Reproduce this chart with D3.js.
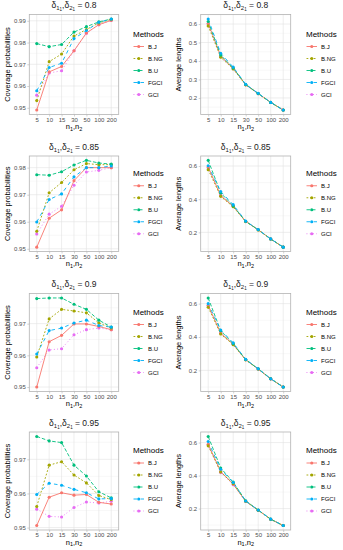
<!DOCTYPE html>
<html><head><meta charset="utf-8">
<script src="https://cdn.jsdelivr.net/npm/d3@7"></script>
<style>body{margin:0;background:#fff} svg{display:block;font-family:"Liberation Sans",Arial,sans-serif}</style>
</head><body><svg id="c" width="343" height="550"></svg>
<script>
// ---------- data ----------
const xCats = ["5", "10", "15", "30", "50", "100", "200"];
const methods = ["B.J", "B.NG", "B.U", "FGCI", "GCI"];
const deltas = ["0.8", "0.85", "0.9", "0.95"];

// Coverage probabilities, one row per delta (0.8, 0.85, 0.9, 0.95)
const covBJ = [
  [0.9490, 0.9665, 0.9690, 0.9762, 0.9844, 0.9882, 0.9902],
  [0.9506, 0.9613, 0.9644, 0.9752, 0.9800, 0.9800, 0.9800],
  [0.9500, 0.9643, 0.9663, 0.9699, 0.9699, 0.9691, 0.9681],
  [0.9506, 0.9589, 0.9602, 0.9595, 0.9597, 0.9574, 0.9569]
];
const covBNG = [
  [0.9533, 0.9712, 0.9747, 0.9830, 0.9860, 0.9890, 0.9907],
  [0.9565, 0.9707, 0.9745, 0.9792, 0.9815, 0.9811, 0.9811],
  [0.9595, 0.9715, 0.9745, 0.9740, 0.9734, 0.9702, 0.9686],
  [0.9562, 0.9683, 0.9693, 0.9654, 0.9631, 0.9594, 0.9582]
];
const covBU = [
  [0.9795, 0.9781, 0.9791, 0.9848, 0.9873, 0.9895, 0.9908],
  [0.9774, 0.9772, 0.9785, 0.9810, 0.9827, 0.9817, 0.9813],
  [0.9779, 0.9781, 0.9781, 0.9761, 0.9745, 0.9711, 0.9689],
  [0.9767, 0.9754, 0.9749, 0.9683, 0.9651, 0.9605, 0.9587]
];
const covFGCI = [
  [0.9578, 0.9685, 0.9705, 0.9818, 0.9855, 0.9893, 0.9908],
  [0.9599, 0.9682, 0.9703, 0.9766, 0.9800, 0.9800, 0.9806],
  [0.9604, 0.9678, 0.9686, 0.9702, 0.9711, 0.9694, 0.9689],
  [0.9597, 0.9630, 0.9624, 0.9612, 0.9602, 0.9584, 0.9585]
];
const covGCI = [
  [0.9558, 0.9660, 0.9670, 0.9762, 0.9843, 0.9882, 0.9902],
  [0.9555, 0.9628, 0.9657, 0.9735, 0.9784, 0.9790, 0.9800],
  [0.9561, 0.9617, 0.9621, 0.9665, 0.9681, 0.9686, 0.9681],
  [0.9554, 0.9533, 0.9531, 0.9559, 0.9575, 0.9572, 0.9577]
];

// Average lengths
const lenBJ = [
  [0.603, 0.427, 0.360, 0.272, 0.224, 0.176, 0.135],
  [0.594, 0.421, 0.357, 0.266, 0.216, 0.160, 0.111],
  [0.590, 0.422, 0.356, 0.264, 0.208, 0.149, 0.100],
  [0.590, 0.424, 0.349, 0.244, 0.190, 0.135, 0.097]
];
const lenBNG = [
  [0.590, 0.420, 0.357, 0.271, 0.223, 0.175, 0.135],
  [0.578, 0.417, 0.354, 0.265, 0.215, 0.160, 0.111],
  [0.578, 0.418, 0.354, 0.263, 0.208, 0.149, 0.100],
  [0.580, 0.422, 0.350, 0.244, 0.190, 0.135, 0.097]
];
const lenBU = [
  [0.614, 0.432, 0.362, 0.273, 0.224, 0.176, 0.135],
  [0.634, 0.437, 0.360, 0.267, 0.216, 0.160, 0.111],
  [0.634, 0.437, 0.360, 0.265, 0.209, 0.150, 0.100],
  [0.637, 0.446, 0.360, 0.247, 0.191, 0.136, 0.097]
];
const lenFGCI = [
  [0.627, 0.442, 0.367, 0.274, 0.225, 0.176, 0.135],
  [0.601, 0.446, 0.367, 0.268, 0.217, 0.161, 0.111],
  [0.600, 0.442, 0.365, 0.266, 0.210, 0.150, 0.100],
  [0.606, 0.438, 0.358, 0.246, 0.191, 0.136, 0.097]
];
const lenGCI = [
  [0.600, 0.423, 0.358, 0.271, 0.223, 0.175, 0.135],
  [0.590, 0.425, 0.357, 0.266, 0.216, 0.160, 0.111],
  [0.586, 0.426, 0.356, 0.264, 0.208, 0.149, 0.100],
  [0.586, 0.418, 0.344, 0.244, 0.190, 0.135, 0.097]
];

const covTicks = [
  [0.95, 0.96, 0.97, 0.98, 0.99],
  [0.95, 0.96, 0.97, 0.98],
  [0.95, 0.96, 0.97],
  [0.95, 0.96, 0.97]
];
const lenTicks = [
  [0.2, 0.3, 0.4, 0.5, 0.6],
  [0.2, 0.4, 0.6],
  [0.2, 0.4, 0.6],
  [0.2, 0.4, 0.6]
];

// ---------- styles / layout ----------
const colors = ["#F8766D", "#A3A500", "#00BF7D", "#00B0F6", "#E76BF3"];
const dashes = [null, "1.8,1.8", "3.6,1.8", "3.6,3.6", "0.9,2.4"];
const drawOrder = [4, 0, 1, 2, 3]; // GCI, B.J, B.NG, B.U, FGCI (FGCI on top)
const rowTop = [14.5, 156, 293.5, 432];
const rowBottom = [114.5, 251.5, 391.5, 530];

const panels = [
  { x0: 29.3, x1: 118.7, yTitleX: 7.5, legX: 133, label: "Coverage probabilities",
    data: [covBJ, covBNG, covBU, covFGCI, covGCI], ticks: covTicks, fmt: d3.format(".2f") },
  { x0: 200.7, x1: 290.7, yTitleX: 178, legX: 306, label: "Average lengths",
    data: [lenBJ, lenBNG, lenBU, lenFGCI, lenGCI], ticks: lenTicks, fmt: d3.format(".1f") }
];

const svg = d3.select("#c");
svg.append("rect").attr("width", 343).attr("height", 550).attr("fill", "#fff");

function subText(sel, parts) {
  parts.forEach(p => {
    sel.append("tspan").attr("dy", p.dy || 0).attr("font-size", p.fs).text(p.t);
  });
}

deltas.forEach((dl, ri) => {
  const top = rowTop[ri], bottom = rowBottom[ri];
  panels.forEach(p => {
    const g = svg.append("g");
    const series = p.data.map(arr => arr[ri]);
    const ext = d3.extent(series.flat());
    const pad = (ext[1] - ext[0]) * 0.05;
    const y = d3.scaleLinear().domain([ext[0] - pad, ext[1] + pad]).range([bottom, top]);
    const x = d3.scalePoint().domain(xCats).range([p.x0, p.x1]).padding(0.6);
    const ticks = p.ticks[ri];

    // minor grid
    const step = ticks[1] - ticks[0];
    const minors = [];
    for (let v = ticks[0] - step / 2; v <= y.domain()[1]; v += step) {
      if (v >= y.domain()[0]) minors.push(v);
    }
    g.selectAll(".mn").data(minors).join("line")
      .attr("x1", p.x0).attr("x2", p.x1)
      .attr("y1", d => y(d)).attr("y2", d => y(d))
      .attr("stroke", "#eeeeee").attr("stroke-width", 0.4);
    // major grid
    g.selectAll(".mjy").data(ticks).join("line")
      .attr("x1", p.x0).attr("x2", p.x1)
      .attr("y1", d => y(d)).attr("y2", d => y(d))
      .attr("stroke", "#e2e2e2").attr("stroke-width", 0.6);
    g.selectAll(".mjx").data(xCats).join("line")
      .attr("x1", d => x(d)).attr("x2", d => x(d))
      .attr("y1", top).attr("y2", bottom)
      .attr("stroke", "#e2e2e2").attr("stroke-width", 0.6);

    // axes
    const ya = g.append("g").attr("transform", `translate(${p.x0},0)`)
      .call(d3.axisLeft(y).tickValues(ticks).tickFormat(p.fmt).tickSize(2).tickPadding(1.5));
    const xa = g.append("g").attr("transform", `translate(0,${bottom})`)
      .call(d3.axisBottom(x).tickSize(2).tickPadding(1));
    [ya, xa].forEach(a => {
      a.select(".domain").remove();
      a.selectAll(".tick line").attr("stroke", "#b3b3b3").attr("stroke-width", 0.6);
      a.selectAll(".tick text").attr("fill", "#4d4d4d").attr("font-size", 6)
        .attr("font-family", '"Liberation Sans",Arial,sans-serif');
    });

    // series: lines first, then points
    const line = d3.line().x((d, i) => x(xCats[i])).y(d => y(d));
    drawOrder.forEach(mi => {
      g.append("path").datum(series[mi]).attr("d", line)
        .attr("fill", "none").attr("stroke", colors[mi]).attr("stroke-width", 0.9)
        .attr("stroke-dasharray", dashes[mi]);
    });
    drawOrder.forEach(mi => {
      g.selectAll(null).data(series[mi]).join("circle")
        .attr("cx", (d, i) => x(xCats[i])).attr("cy", d => y(d)).attr("r", 1.55)
        .attr("fill", colors[mi]);
    });

    // panel border
    g.append("rect").attr("x", p.x0).attr("y", top)
      .attr("width", p.x1 - p.x0).attr("height", bottom - top)
      .attr("fill", "none").attr("stroke", "#b3b3b3").attr("stroke-width", 0.8);

    // title
    const t = g.append("text").attr("x", (p.x0 + p.x1) / 2).attr("y", top - 6.5)
      .attr("text-anchor", "middle").attr("font-size", 8.5).attr("fill", "#1a1a1a");
    subText(t, [
      { t: "\u03b4", fs: 8.5 }, { t: "1", fs: 6, dy: 2 }, { t: "1", fs: 4.5, dy: 1.2 },
      { t: ",\u03b4", fs: 8.5, dy: -3.2 }, { t: "2", fs: 6, dy: 2 }, { t: "1", fs: 4.5, dy: 1.2 },
      { t: " = " + dl, fs: 8.5, dy: -3.2 }
    ]);

    // x axis title
    const xt = g.append("text").attr("x", (p.x0 + p.x1) / 2).attr("y", bottom + 14.5)
      .attr("text-anchor", "middle").attr("font-size", 7.5).attr("fill", "#000");
    subText(xt, [
      { t: "n", fs: 7.5 }, { t: "1", fs: 5.5, dy: 1.8 }, { t: ",n", fs: 7.5, dy: -1.8 },
      { t: "2", fs: 5.5, dy: 1.8 }
    ]);

    // y axis title
    g.append("text")
      .attr("transform", `translate(${p.yTitleX + 2.7},${(top + bottom) / 2}) rotate(-90)`)
      .attr("text-anchor", "middle").attr("font-size", 7.5).attr("fill", "#000")
      .text(p.label);

    // legend
    const midY = (top + bottom) / 2 + 6;
    const lg = g.append("g");
    lg.append("text").attr("x", p.legX).attr("y", midY - 2 * 12 - 13 + 3)
      .attr("font-size", 8).attr("fill", "#000").text("Methods");
    methods.forEach((m, mi) => {
      const yy = midY + (mi - 2) * 12;
      lg.append("line").attr("x1", p.legX + 0.5).attr("x2", p.legX + 11)
        .attr("y1", yy).attr("y2", yy).attr("stroke", colors[mi]).attr("stroke-width", 0.9)
        .attr("stroke-dasharray", dashes[mi]);
      lg.append("circle").attr("cx", p.legX + 5.75).attr("cy", yy).attr("r", 1.55)
        .attr("fill", colors[mi]);
      lg.append("text").attr("x", p.legX + 15).attr("y", yy + 2.1)
        .attr("font-size", 6).attr("fill", "#000").text(m);
    });
  });
});
</script></body></html>
